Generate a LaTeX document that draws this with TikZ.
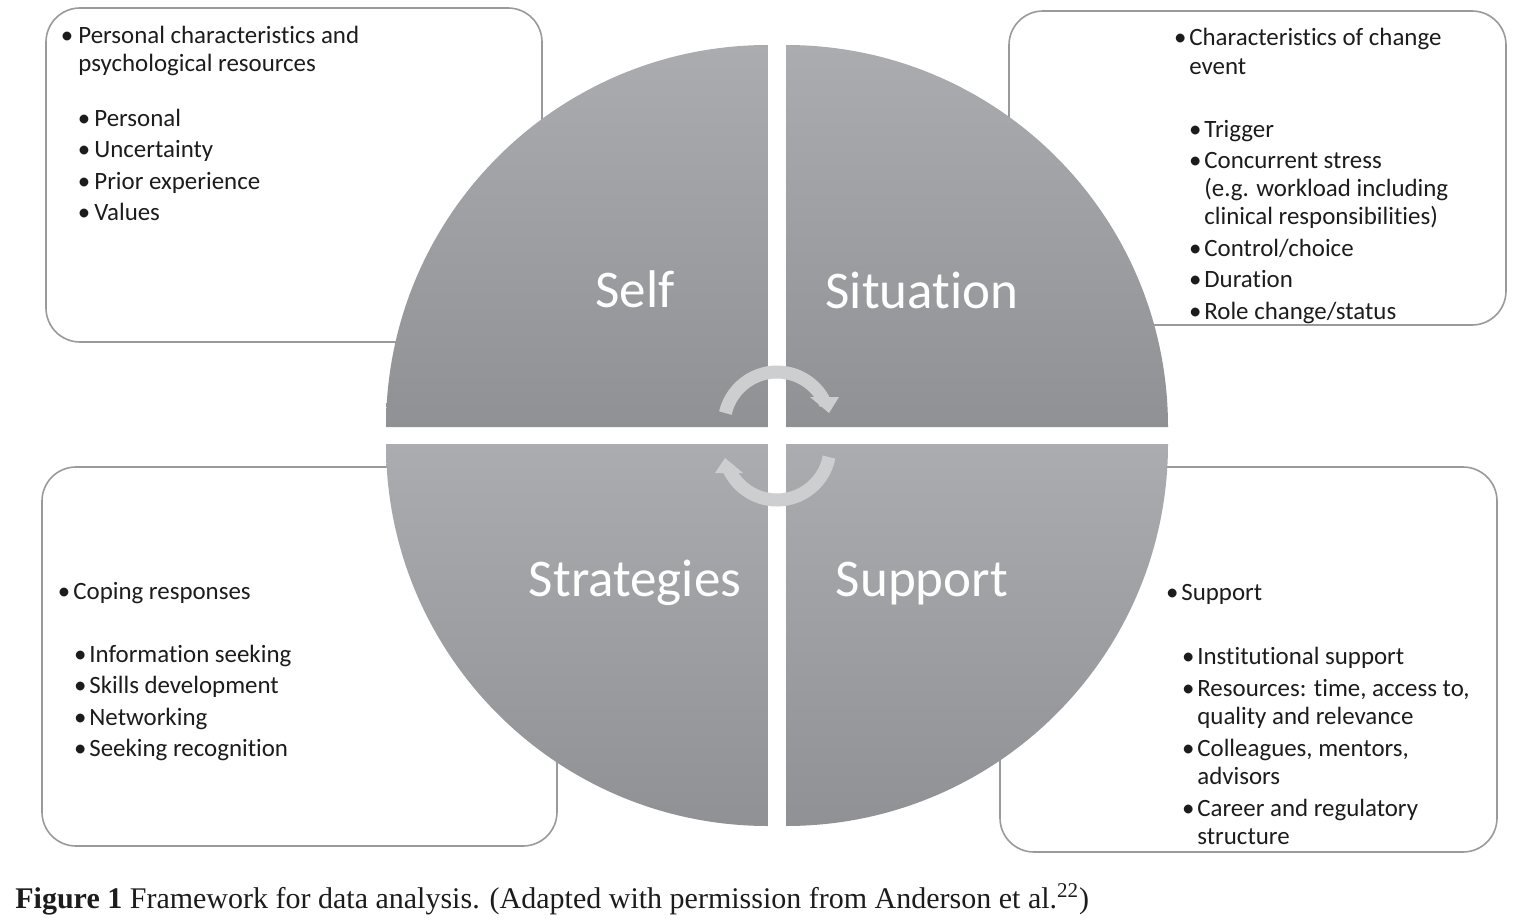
\documentclass[tikz,border=0pt]{standalone}
\usepackage{fontspec}
\setmainfont{Carlito}[Ligatures=NoCommon]
\newfontfamily\capfont{Liberation Serif}
\usepackage{xcolor}
\usetikzlibrary{positioning}
\definecolor{quadtop}{HTML}{ABACAF}
\definecolor{quadbot}{HTML}{909195}
\definecolor{panelline}{HTML}{9A9A9A}
\definecolor{cycgray}{HTML}{CDCED0}
\definecolor{ink}{HTML}{1C1C1C}
\newcommand{\bul}[1][2pt]{\llap{\textbullet\hspace{#1}}}

\begin{document}
\begin{tikzpicture}[
    x=0.5pt, y=0.5pt,
    panel/.style={draw=panelline, line width=0.8pt, rounded corners=17pt, fill=white},
    quad/.style={top color=quadtop, bottom color=quadbot},
    qlabel/.style={text=white, font=\fontsize{26.5}{30}\selectfont, anchor=base, inner sep=0pt},
    txt/.style={text=ink, font=\fontsize{12.45}{14}\selectfont, anchor=base west, inner sep=0pt},
    cyc/.style={draw=cycgray, line width=6.5pt},
    cychead/.style={fill=cycgray}]
  \useasboundingbox (0,0) rectangle (1515,-921);
  \draw[panel] (46,-8) rectangle (542,-342);
  \draw[panel] (1009,-11) rectangle (1506,-325);
  \draw[panel] (42,-467) rectangle (557,-846);
  \draw[panel] (1000,-467) rectangle (1497,-852);
  \shade[quad] (768,-427) -- (386,-427) arc[start angle=180, end angle=90, radius=382] -- cycle;
  \shade[quad] (786,-427) -- (786,-45) arc[start angle=90, end angle=0, radius=382] -- cycle;
  \shade[quad] (768,-444) -- (386,-444) arc[start angle=180, end angle=270, radius=382] -- cycle;
  \shade[quad] (786,-444) -- (1168,-444) arc[start angle=0, end angle=-90, radius=382] -- cycle;
  \draw[cyc] (777,-425) ++(167:53) arc[start angle=167, end angle=23, radius=53];
  \fill[cychead] (810,-397) -- (839,-397) -- (829,-413) -- cycle;
  \draw[cyc] (777,-447) ++(-11:53) arc[start angle=-11, end angle=-157, radius=53];
  \fill[cychead] (715,-473) -- (743,-473) -- (725,-458) -- cycle;
  \node[qlabel] (self) at (635,-307) {Self};
  \node[qlabel] (situation) at (922,-308) {Situation};
  \node[qlabel] (strategies) at (635,-596) {Strategies};
  \node[qlabel] (support) at (922,-596) {Support};
  \node[txt] (selfhead) at (78,-43) {\begin{tabular}[t]{@{}l@{}}\bul[2.5pt]Personal characteristics and\\ psychological resources\end{tabular}};
  \node[txt] (selflist) at (94,-126) {\begin{tabular}[t]{@{}l@{}}\bul Personal\\[1.8pt] \bul Uncertainty\\[1.8pt] \bul Prior experience\\[1.8pt] \bul Values\end{tabular}};
  \node[txt] (sithead) at (1189,-46) {\begin{tabular}[t]{@{}l@{}}\bul[1.5pt]Characteristics of change\\ event\end{tabular}};
  \node[txt] (sitlist) at (1204,-137) {\begin{tabular}[t]{@{}l@{}}\bul[1.5pt]Trigger\\[1.8pt] \bul[1.5pt]Concurrent stress\\ (e.g. workload including\\ clinical responsibilities)\\[1.8pt] \bul[1.5pt]Control/choice\\[1.8pt] \bul[1.5pt]Duration\\[1.8pt] \bul[1.5pt]Role change/status\end{tabular}};
  \node[txt] (strathead) at (73,-599) {\begin{tabular}[t]{@{}l@{}}\bul[1.5pt]Coping responses\end{tabular}};
  \node[txt] (stratlist) at (89,-662) {\begin{tabular}[t]{@{}l@{}}\bul[1.5pt]Information seeking\\[1.8pt] \bul[1.5pt]Skills development\\[1.8pt] \bul[1.5pt]Networking\\[1.8pt] \bul[1.5pt]Seeking recognition\end{tabular}};
  \node[txt] (supphead) at (1181,-600) {\begin{tabular}[t]{@{}l@{}}\bul[1.5pt]Support\end{tabular}};
  \node[txt] (supplist) at (1197,-664) {\begin{tabular}[t]{@{}l@{}}\bul[1.5pt]Institutional support\\[2pt] \bul[1.5pt]Resources: time, access to,\\ quality and relevance\\[2pt] \bul[1.5pt]Colleagues, mentors,\\ advisors\\[2pt] \bul[1.5pt]Career and regulatory\\ structure\end{tabular}};
  \node[anchor=base west, inner sep=0pt, text=ink, font=\capfont\fontsize{15}{17}\selectfont] (caption) at (15,-908) {\textbf{Figure 1} Framework for data analysis. (Adapted with permission from Anderson et al.\textsuperscript{22})};
\end{tikzpicture}
\end{document}
